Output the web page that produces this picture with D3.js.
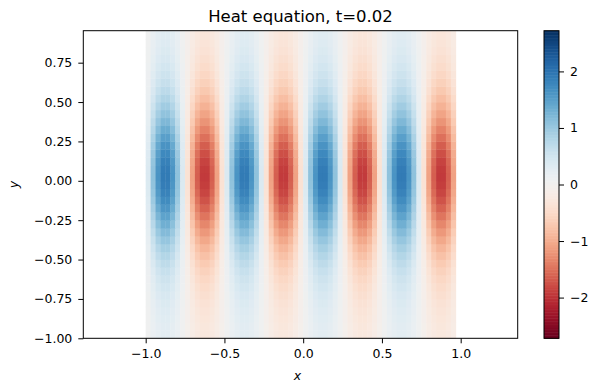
<!DOCTYPE html>
<html>
<head>
<meta charset="utf-8">
<script src="https://cdn.jsdelivr.net/npm/d3@7"></script>
<style>
  * { margin: 0; padding: 0; }
  body { background: #fff; }
  text { font-family: 'DejaVu Sans', sans-serif; fill: #000; }
  .tick text { font-size: 12.5px; }
  .tick line { stroke: #000; }
  .domain { display: none; }
</style>
</head>
<body>
<svg id="chart" width="599" height="391"></svg>
<script>
// grid nodes along x and y (data coordinates)
let xNodes = d3.range(64).map(i => -1 + i / 32);
let yNodes = d3.range(40).map(j => -1 + j * 0.05);

// amplitude read along a row through y=0 (normalised) for each x node
let colAmp = [
  0, .38, .71, .92, 1, .92, .71, .38, 0, -.38, -.71, -.92, -1, -.92, -.71, -.38,
  0, .38, .71, .92, 1, .92, .71, .38, 0, -.38, -.71, -.92, -1, -.92, -.71, -.38,
  0, .38, .71, .92, 1, .92, .71, .38, 0, -.38, -.71, -.92, -1, -.92, -.71, -.38,
  0, .38, .71, .92, 1, .92, .71, .38, 0, -.38, -.71, -.92, -1, -.92, -.71, -.38
];
// peak height read along a stripe for each y node
let rowAmp = [
  0.27, 0.29, 0.31, 0.34, 0.37, 0.41, 0.46, 0.52, 0.59, 0.67,
  0.77, 0.88, 1.01, 1.15, 1.30, 1.45, 1.60, 1.74, 1.86, 1.95,
  2.00, 2.01, 1.97, 1.89, 1.78, 1.64, 1.49, 1.34, 1.19, 1.05,
  0.92, 0.80, 0.69, 0.60, 0.52, 0.46, 0.41, 0.37, 0.34, 0.31
];

let xTicks = [-1, -0.5, 0, 0.5, 1];
let yTicks = [-1, -0.75, -0.5, -0.25, 0, 0.25, 0.5, 0.75];
let cbTicks = [-2, -1, 0, 1, 2];
let vLimit = 2.72;

let svg = d3.select('#chart');
let plotLeft = 83.3, plotRight = 517.7, plotTop = 30.7, plotBottom = 338.3;

let x = d3.scaleLinear().domain([-1.396, 1.362]).range([plotLeft, plotRight]);
let y = d3.scaleLinear().domain([-1, 0.953]).range([plotBottom, plotTop]);
let color = d3.scaleSequential(d3.interpolateRdBu).domain([-vLimit, vLimit]);
let minus = s => s.replace('-', '\u2212');

// cells: each spans two nodes, coloured by the mean of its corners
let cells = [];
for (let j = 0; j < yNodes.length - 1; j++) {
  for (let i = 0; i < xNodes.length - 1; i++) {
    let v = (colAmp[i] + colAmp[i + 1]) / 2 * (rowAmp[j] + rowAmp[j + 1]) / 2;
    cells.push({x0: xNodes[i], x1: xNodes[i + 1], y0: yNodes[j], y1: yNodes[j + 1], v: v});
  }
}

svg.append('g')
  .selectAll('rect')
  .data(cells)
  .enter()
  .append('rect')
  .attr('x', d => x(d.x0))
  .attr('y', d => y(d.y1))
  .attr('width', d => x(d.x1) - x(d.x0) + 0.4)
  .attr('height', d => y(d.y0) - y(d.y1) + 0.4)
  .attr('fill', d => color(d.v));

svg.append('g')
  .attr('transform', 'translate(0,' + plotBottom + ')')
  .call(d3.axisBottom(x).tickValues(xTicks).tickSize(5).tickPadding(6)
    .tickFormat(d => minus(d3.format('.1f')(d))));

svg.append('g')
  .attr('transform', 'translate(' + plotLeft + ',0)')
  .call(d3.axisLeft(y).tickValues(yTicks).tickSize(5).tickPadding(6)
    .tickFormat(d => minus(d3.format('.2f')(d))));

svg.append('rect')
  .attr('x', plotLeft).attr('y', plotTop)
  .attr('width', plotRight - plotLeft).attr('height', plotBottom - plotTop)
  .attr('fill', 'none').attr('stroke', '#000').attr('stroke-width', 1);

svg.append('text')
  .attr('x', (plotLeft + plotRight) / 2).attr('y', 22)
  .attr('text-anchor', 'middle').attr('font-size', 16.5)
  .text('Heat equation, t=0.02');

svg.append('text')
  .attr('x', (plotLeft + plotRight) / 2 - 3).attr('y', 380)
  .attr('text-anchor', 'middle').attr('font-size', 12.5).attr('font-style', 'italic')
  .text('x');

svg.append('text')
  .attr('transform', 'translate(18,' + ((plotTop + plotBottom) / 2) + ') rotate(-90)')
  .attr('text-anchor', 'middle').attr('font-size', 12.5).attr('font-style', 'italic')
  .text('y');

// colorbar
let cbLeft = 544, cbRight = 559;
let cy = d3.scaleLinear().domain([-vLimit, vLimit]).range([plotBottom, plotTop]);
let cbSteps = d3.range(200).map(k => -vLimit + k * (2 * vLimit / 200));
svg.append('g')
  .selectAll('rect')
  .data(cbSteps)
  .enter()
  .append('rect')
  .attr('x', cbLeft)
  .attr('width', cbRight - cbLeft)
  .attr('y', d => cy(d + 2 * vLimit / 200))
  .attr('height', d => cy(d) - cy(d + 2 * vLimit / 200) + 0.5)
  .attr('fill', d => color(d + vLimit / 200));

svg.append('rect')
  .attr('x', cbLeft).attr('y', plotTop)
  .attr('width', cbRight - cbLeft).attr('height', plotBottom - plotTop)
  .attr('fill', 'none').attr('stroke', '#000').attr('stroke-width', 1);

svg.append('g')
  .attr('transform', 'translate(' + cbRight + ',0)')
  .call(d3.axisRight(cy).tickValues(cbTicks).tickSize(5).tickPadding(6)
    .tickFormat(d => minus(String(d))));
</script>
</body>
</html>
